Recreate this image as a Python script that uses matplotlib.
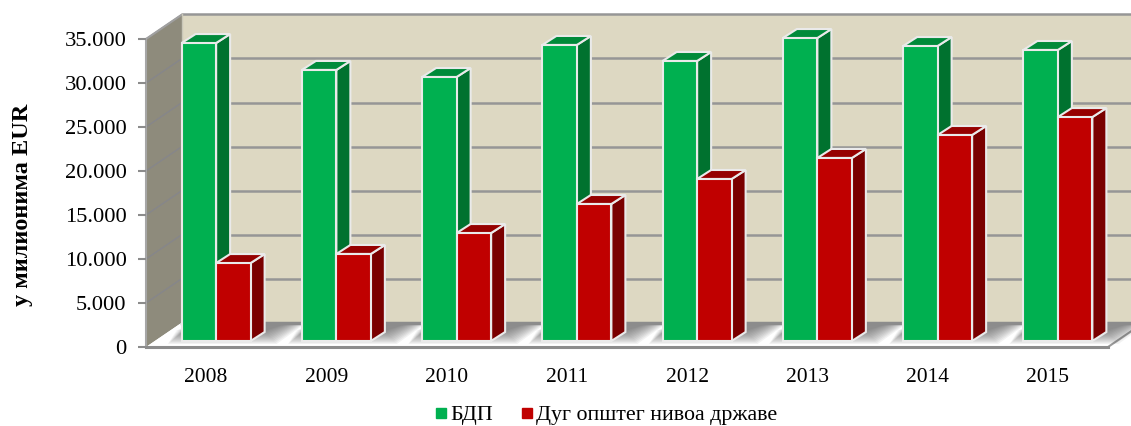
import matplotlib
matplotlib.use('Agg')
import matplotlib.pyplot as plt
from matplotlib.lines import Line2D
from matplotlib.patches import Polygon
from matplotlib.ticker import FuncFormatter

years = ['2008', '2009', '2010', '2011', '2012', '2013', '2014', '2015']
bdp = [33860, 30800, 30000, 33640, 31820, 34430, 33520, 33070]
dug = [8860, 9890, 12270, 15570, 18410, 20800, 23410, 25450]
yticks = [0, 5000, 10000, 15000, 20000, 25000, 30000, 35000]

plt.rcParams['font.family'] = ['Liberation Serif', 'DejaVu Serif']

fig = plt.figure(figsize=(11.31, 4.26), dpi=100)
ax = fig.add_axes([146 / 1131, 1 - 347 / 426, 962 / 1131, 308 / 426])
ax.set_xlim(-0.5, 7.5)
ax.set_ylim(0, 35000)

# one pixel in data units
ux = 8 / 962
uy = 35000 / 308
depth_x, depth_y = 36 * ux, 24.5 * uy
bar_w = 34.5 * ux
bar_dx, bar_dy = 14 * ux, 9 * uy
shift_x = 10 * ux
base = 6 * uy


def poly(pts, color, z, edge='none', lw=0, alpha=None):
    ax.add_patch(Polygon(pts, closed=True, facecolor=color, edgecolor=edge, linewidth=lw,
                         alpha=alpha, zorder=z, clip_on=False))


x0, x1 = -0.5, 7.5

# walls and floor
poly([(x0 + depth_x, 0 + depth_y), (x1 + depth_x, depth_y), (x1 + depth_x, 35000 + depth_y), (x0 + depth_x, 35000 + depth_y)], '#DDD8C2', 1)
poly([(x0, 0), (x0 + depth_x, depth_y), (x0 + depth_x, 35000 + depth_y), (x0, 35000)], '#8E8B7C', 1)
poly([(x0, 0), (x1, 0), (x1 + depth_x, depth_y), (x0 + depth_x, depth_y)], 'white', 1)

# gridlines
for v in yticks[1:]:
    ax.plot([x0 + depth_x, x1 + depth_x], [v + depth_y, v + depth_y], color='#969696', lw=1.8, zorder=2, clip_on=False, solid_capstyle='butt')
    ax.plot([x0, x0 + depth_x], [v, v + depth_y], color='#86868A', lw=1, zorder=2, clip_on=False)
ax.plot([x0, x0 + depth_x], [35000, 35000 + depth_y], color='#A0A0A0', lw=1.5, zorder=2, clip_on=False)
ax.plot([x0 + depth_x, x0 + depth_x], [0 + depth_y, 35000 + depth_y], color='#C9C7B8', lw=1, zorder=2, clip_on=False)
ax.plot([x1, x1 + depth_x], [0, depth_y], color='#9A9A9A', lw=1.5, zorder=2, clip_on=False)

# soft shadows on the floor, each layer a bit smaller than the one before
for i in range(len(years)):
    left = i + shift_x - bar_w
    right = i + shift_x + bar_w
    for k in range(12):
        t = k / 11
        low = base - 3 * uy + t * 13 * uy
        poly([(left - 14 * ux + t * 8 * ux, low),
              (right + 26 * ux - t * 12 * ux, low),
              (right + 56 * ux - t * 16 * ux, depth_y),
              (left + 12 * ux, depth_y)],
             '#3C3C3C', 3, alpha=0.065)
ax.plot([x0 + depth_x, x1 + depth_x], [depth_y, depth_y], color='#8C8C8C', lw=2.5, zorder=4, clip_on=False)

# bars
for i in range(len(years)):
    z = 10 + i
    gl = i + shift_x - bar_w
    rl = i + shift_x
    for left, val, side, top, zz in [(gl, bdp[i], '#00722F', '#008A3A', z), (rl, dug[i], '#7A0000', '#960000', z + 0.3)]:
        right = left + bar_w
        h = base + val
        poly([(right, base), (right + bar_dx, base + bar_dy), (right + bar_dx, h + bar_dy), (right, h)], side, zz, '#EAEAEA', 1.5)
        poly([(left, h), (right, h), (right + bar_dx, h + bar_dy), (left + bar_dx, h + bar_dy)], top, zz + 0.1, '#EAEAEA', 1.5)

for i in range(len(years)):
    ax.bar(i + shift_x - bar_w, bdp[i], width=bar_w, bottom=base, align='edge', color='#00B050',
           edgecolor='#EAEAEA', linewidth=1.5, zorder=10 + i + 0.2, clip_on=False)
    ax.bar(i + shift_x, dug[i], width=bar_w, bottom=base, align='edge', color='#C00000',
           edgecolor='#EAEAEA', linewidth=1.5, zorder=10 + i + 0.5, clip_on=False)

# axes
for s in ['top', 'right']:
    ax.spines[s].set_visible(False)
ax.spines['left'].set_color('#A6A6A6')
ax.spines['left'].set_linewidth(1.5)
ax.spines['bottom'].set_color('#8C8C8C')
ax.spines['bottom'].set_linewidth(2.2)
ax.set_axisbelow(False)

ax.set_xticks(range(len(years)))
ax.set_xticklabels(years)
ax.set_yticks(yticks)
ax.yaxis.set_major_formatter(FuncFormatter(lambda v, p: f'{int(v):,}'.replace(',', '.')))
ax.tick_params(axis='x', length=0, labelsize=15.5, pad=15)
ax.tick_params(axis='y', length=6, width=1.5, color='#8C8C8C', labelsize=16.2, pad=8)

fig.text(23 / 1131, 1 - 205 / 426, 'у милионима EUR', rotation=90, ha='center', va='center',
         fontsize=17.5, fontweight='bold')

handles = [Line2D([], [], linestyle='none', marker='s', markersize=6.5, color='#00B050', label='БДП'),
           Line2D([], [], linestyle='none', marker='s', markersize=6.5, color='#C00000', label='Дуг општег нивоа државе')]
fig.legend(handles=handles, loc='center', bbox_to_anchor=(606 / 1131, 1 - 415 / 426), ncol=2, frameon=False,
           fontsize=15.8, handlelength=0.6, handletextpad=0.12, columnspacing=1.25, borderpad=0)

fig.savefig('out.png', dpi=100)
